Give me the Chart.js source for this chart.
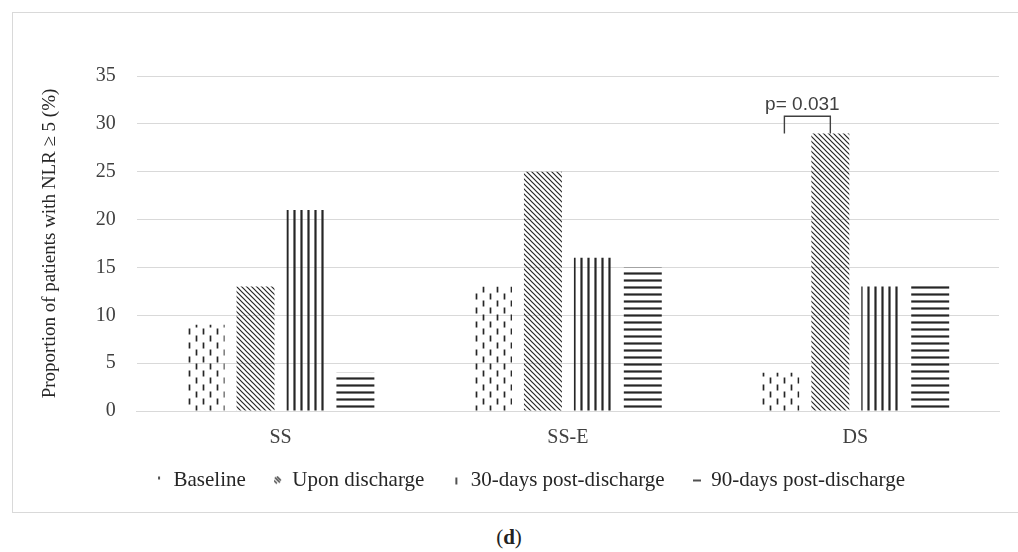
<!DOCTYPE html>
<html>
<head>
<meta charset="utf-8">
<script src="https://cdn.jsdelivr.net/npm/chart.js@4.4.1/dist/chart.umd.min.js"></script>
<style>
  html, body { margin: 0; padding: 0; background: #fff; }
  body { width: 1018px; height: 552px; position: relative; overflow: hidden; }
  #box { position: absolute; left: 12px; top: 12px; width: 1020px; height: 499px; border: 1px solid #d9d9d9; }
  #wrap { position: absolute; left: 13px; top: 13px; width: 1005px; height: 499px; }
  #caption { position: absolute; left: 0; width: 1018px; top: 525px; text-align: center;
             font-family: "Liberation Serif", serif; font-size: 21px; color: #222; }
</style>
</head>
<body>
<div id="box"></div>
<div id="wrap"><canvas id="nlrChart"></canvas></div>
<div id="caption">(<b>d</b>)</div>
<script>
// Chart data
const categories = ["SS", "SS-E", "DS"];
const seriesNames = ["Baseline", "Upon discharge", "30-days post-discharge", "90-days post-discharge"];
const baseline = [9, 13, 4];
const uponDischarge = [13, 25, 29];
const days30 = [21, 16, 13];
const days90 = [4, 15, 13.4];
const yTicks = [0, 5, 10, 15, 20, 25, 30, 35];

const ink = "#262626";
const serif = "'Liberation Serif', serif";

// Build a repeating fill pattern from a small tile
function makePattern(w, h, draw) {
  const c = document.createElement("canvas");
  c.width = w; c.height = h;
  const g = c.getContext("2d");
  g.strokeStyle = ink;
  draw(g);
  return g.createPattern(c, "repeat");
}

// Small legend marker drawn on its own canvas
function makeMarker(draw) {
  const c = document.createElement("canvas");
  c.width = 8; c.height = 10;
  const g = c.getContext("2d");
  g.strokeStyle = ink;
  g.lineWidth = 1.2;
  draw(g);
  return c;
}

const patDashes = makePattern(14, 14, g => {
  g.lineWidth = 1.7;
  g.beginPath();
  g.moveTo(1.5, 0.5); g.lineTo(1.5, 6.5);
  g.moveTo(8.5, 7.5); g.lineTo(8.5, 13.5);
  g.stroke();
});

const patDiag = makePattern(5, 5, g => {
  g.lineWidth = 1.2;
  g.beginPath();
  g.moveTo(-1, -1); g.lineTo(6, 6);
  g.moveTo(-1, 4); g.lineTo(1, 6);
  g.moveTo(4, -1); g.lineTo(6, 1);
  g.stroke();
});

const patVert = makePattern(7, 7, g => {
  g.lineWidth = 2.2;
  g.beginPath();
  g.moveTo(1.5, 0); g.lineTo(1.5, 7);
  g.stroke();
});

const patHorz = makePattern(7, 7, g => {
  g.lineWidth = 2.2;
  g.beginPath();
  g.moveTo(0, 1.5); g.lineTo(7, 1.5);
  g.stroke();
});

const markers = [
  makeMarker(g => { g.lineWidth = 1.6; g.beginPath(); g.moveTo(4, 1); g.lineTo(4, 4); g.stroke(); }),
  makeMarker(g => { g.beginPath(); g.moveTo(1, 2); g.lineTo(6, 7); g.moveTo(3, 1); g.lineTo(7, 5); g.moveTo(0, 5); g.lineTo(3, 8); g.stroke(); }),
  makeMarker(g => { g.lineWidth = 1.6; g.beginPath(); g.moveTo(4, 2); g.lineTo(4, 9); g.stroke(); }),
  makeMarker(g => { g.lineWidth = 1.6; g.beginPath(); g.moveTo(0, 5); g.lineTo(8, 5); g.stroke(); })
];

// nudge the legend row into place after layout
const legendShift = {
  id: "legendShift",
  afterLayout(chart) {
    const lg = chart.legend;
    if (!lg) return;
    lg.top -= 15; lg.bottom -= 15;
    lg.left += 16; lg.right += 16;
  }
};

// p-value bracket above DS bars
const bracketPlugin = {
  id: "bracket",
  afterDatasetsDraw(chart) {
    const y = chart.scales.y;
    const m0 = chart.getDatasetMeta(0).data[2];
    const m1 = chart.getDatasetMeta(1).data[2];
    const x1 = m0.x + 4, x2 = m1.x;
    const top = y.getPixelForValue(30.8);
    const bottom = y.getPixelForValue(29);
    const ctx = chart.ctx;
    ctx.save();
    ctx.strokeStyle = "#404040";
    ctx.lineWidth = 1.4;
    ctx.beginPath();
    ctx.moveTo(x1, bottom);
    ctx.lineTo(x1, top);
    ctx.lineTo(x2, top);
    ctx.lineTo(x2, bottom);
    ctx.stroke();
    ctx.fillStyle = "#404040";
    ctx.font = "19px 'Liberation Sans', sans-serif";
    ctx.textAlign = "center";
    ctx.textBaseline = "alphabetic";
    ctx.fillText("p= 0.031", (x1 + x2) / 2 - 5, top - 6);
    ctx.restore();
  }
};

const patterns = [patDashes, patDiag, patVert, patHorz];
const values = [baseline, uponDischarge, days30, days90];

const ctx = document.getElementById("nlrChart").getContext("2d");
new Chart(ctx, {
  type: "bar",
  data: {
    labels: categories,
    datasets: seriesNames.map((name, i) => ({
      label: name,
      data: values[i],
      backgroundColor: patterns[i],
      borderWidth: 0,
      pointStyle: markers[i],
      barPercentage: 0.76,
      categoryPercentage: 0.695
    }))
  },
  options: {
    responsive: true,
    maintainAspectRatio: false,
    animation: false,
    layout: { padding: { top: 63, right: 19, left: 16, bottom: -4 } },
    plugins: {
      legend: {
        position: "bottom",
        labels: {
          usePointStyle: true,
          pointStyleWidth: 8,
          boxWidth: 8,
          boxHeight: 10,
          color: "#262626",
          padding: 28,
          font: { family: serif, size: 21 }
        }
      },
      tooltip: { enabled: false }
    },
    scales: {
      x: {
        grid: { display: false },
        border: { color: "#d9d9d9" },
        ticks: { color: "#404040", font: { family: serif, size: 20 }, padding: 7 }
      },
      y: {
        min: 0,
        max: 35,
        afterBuildTicks: s => { s.ticks = yTicks.map(v => ({ value: v })); },
        grid: { color: "#d9d9d9", drawTicks: false },
        border: { display: false },
        ticks: { color: "#404040", font: { family: serif, size: 20 }, padding: 21 },
        title: {
          display: true,
          text: "Proportion of patients with NLR \u2265 5 (%)",
          color: "#262626",
          font: { family: serif, size: 19 },
          padding: { top: 10, bottom: 13 }
        }
      }
    }
  },
  plugins: [legendShift, bracketPlugin]
});
</script>
</body>
</html>
